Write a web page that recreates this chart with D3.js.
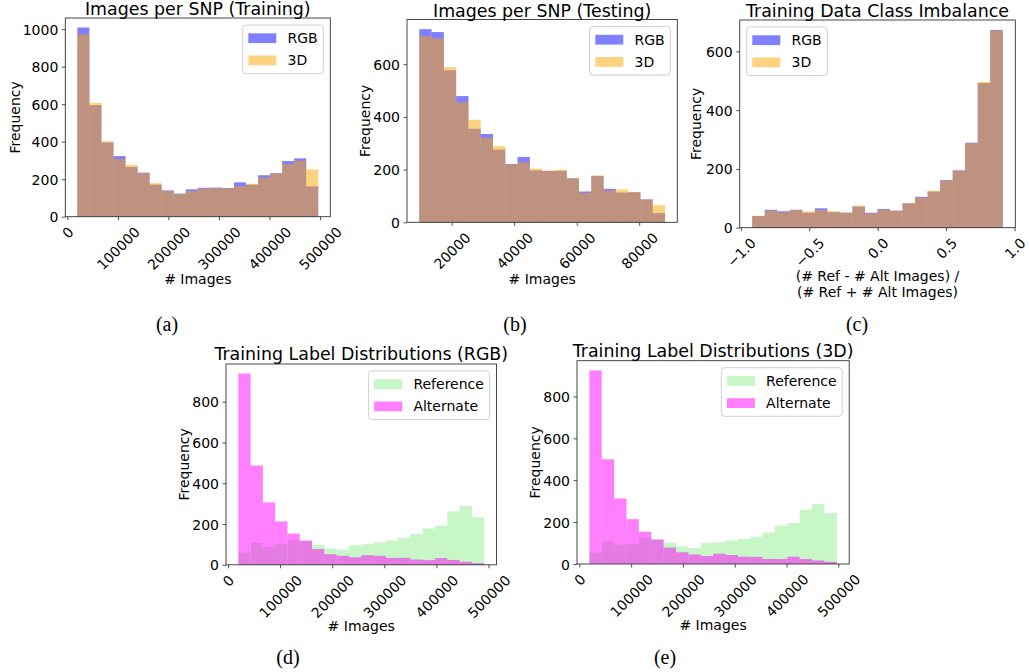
<!DOCTYPE html>
<html><head><meta charset="utf-8">
<script src="https://cdn.jsdelivr.net/npm/d3@7"></script>
<style>body{margin:0;background:#fff}svg{display:block}</style>
</head><body>
<svg id="fig" width="1029" height="672"></svg>
<script>
// ---------- data ----------
const binCount = 20;

// (a) Images per SNP (Training)
const trainBinRange = [19800, 496600];
const trainRGB = [1009, 595, 396, 323, 265, 235, 171, 140, 123, 146, 154, 155, 153, 183, 171, 221, 232, 297, 311, 162];
const train3D  = [973, 607, 402, 308, 277, 233, 179, 138, 121, 137, 150, 154, 152, 163, 175, 209, 230, 282, 299, 252];

// (b) Images per SNP (Testing)
const testBinRange = [9630, 88260];
const testRGB = [733, 722, 577, 479, 355, 335, 276, 221, 248, 197, 195, 195, 167, 117, 176, 127, 113, 114, 87, 35];
const test3D  = [707, 698, 589, 455, 389, 321, 289, 220, 228, 204, 196, 200, 167, 112, 178, 121, 125, 115, 87, 65];

// (c) Training Data Class Imbalance
const classBinRange = [-0.917, 0.914];
const classRGB = [40, 61, 56, 61, 51, 66, 53, 51, 72, 51, 64, 58, 83, 105, 123, 162, 195, 289, 492, 673];
const class3D  = [40, 59, 52, 60, 55, 61, 56, 52, 75, 49, 62, 58, 84, 102, 126, 161, 194, 287, 496, 671];

// (d) Training Label Distributions (RGB)
const labelRGBBinRange = [19785, 491740];
const refRGB = [59, 108, 88, 103, 119, 117, 99, 80, 75, 96, 101, 111, 119, 132, 151, 178, 191, 262, 288, 233];
const altRGB = [938, 487, 306, 213, 153, 119, 77, 52, 44, 37, 47, 44, 34, 34, 26, 23, 33, 24, 15, 8];

// (e) Training Label Distributions (3D)
const label3DBinRange = [19313, 497100];
const ref3D = [54, 108, 92, 97, 125, 117, 102, 84, 76, 102, 103, 113, 119, 130, 151, 183, 195, 259, 286, 243];
const alt3D = [924, 500, 313, 214, 154, 117, 78, 56, 46, 38, 49, 43, 35, 34, 24, 24, 35, 24, 17, 10];

// ticks
const imagesXTicks = [0, 100000, 200000, 300000, 400000, 500000];
const imagesXTickLabels = ["0", "100000", "200000", "300000", "400000", "500000"];
const testXTicks = [20000, 40000, 60000, 80000];
const testXTickLabels = ["20000", "40000", "60000", "80000"];
const classXTicks = [-1, -0.5, 0, 0.5, 1];
const classXTickLabels = ["\u22121.0", "\u22120.5", "0.0", "0.5", "1.0"];
const trainYTicks = [0, 200, 400, 600, 800, 1000];
const testYTicks = [0, 200, 400, 600];
const classYTicks = [0, 200, 400, 600];
const labelYTicks = [0, 200, 400, 600, 800];

const seriesRGB3D = ["RGB", "3D"];
const seriesRefAlt = ["Reference", "Alternate"];
const colorsRGB3D = ["#0000ff", "#ffa500"];
const colorsRefAlt = ["#90ee90", "#ff00ff"];

const titles = ["Images per SNP (Training)", "Images per SNP (Testing)", "Training Data Class Imbalance",
                "Training Label Distributions (RGB)", "Training Label Distributions (3D)"];
const captions = ["(a)", "(b)", "(c)", "(d)", "(e)"];

// ---------- drawing ----------
const FONT = "'DejaVu Sans', sans-serif";
const svg = d3.select("#fig");

const panels = [
  { title: titles[0], caption: captions[0], range: trainBinRange, series: [trainRGB, train3D], names: seriesRGB3D, colors: colorsRGB3D,
    xTicks: imagesXTicks, xLabels: imagesXTickLabels, yTicks: trainYTicks,
    box: {left: 65.3, right: 330.3, top: 18, bottom: 216.7}, legendSide: "right",
    titleY: 14.5, ylabX: 20, xlab: ["# Images"], xlabY: [283.5], cap: [167, 331] },
  { title: titles[1], caption: captions[1], range: testBinRange, series: [testRGB, test3D], names: seriesRGB3D, colors: colorsRGB3D,
    xTicks: testXTicks, xLabels: testXTickLabels, yTicks: testYTicks,
    box: {left: 407, right: 677.3, top: 19.5, bottom: 222.3}, legendSide: "right",
    titleY: 16.5, ylabX: 370.3, xlab: ["# Images"], xlabY: [283.5], cap: [515, 331] },
  { title: titles[2], caption: captions[2], range: classBinRange, series: [classRGB, class3D], names: seriesRGB3D, colors: colorsRGB3D,
    xTicks: classXTicks, xLabels: classXTickLabels, yTicks: classYTicks,
    box: {left: 739.7, right: 1015.3, top: 20, bottom: 227.7}, legendSide: "left",
    titleY: 16.7, ylabX: 701, xlab: ["(# Ref - # Alt Images) /", "(# Ref + # Alt Images)"], xlabY: [280.5, 297], cap: [857, 331] },
  { title: titles[3], caption: captions[3], range: labelRGBBinRange, series: [refRGB, altRGB], names: seriesRefAlt, colors: colorsRefAlt,
    xTicks: imagesXTicks, xLabels: imagesXTickLabels, yTicks: labelYTicks,
    box: {left: 226, right: 496.5, top: 364, bottom: 564.8}, legendSide: "right",
    titleY: 360, ylabX: 188.5, xlab: ["# Images"], xlabY: [631], cap: [288, 664] },
  { title: titles[4], caption: captions[4], range: label3DBinRange, series: [ref3D, alt3D], names: seriesRefAlt, colors: colorsRefAlt,
    xTicks: imagesXTicks, xLabels: imagesXTickLabels, yTicks: labelYTicks,
    box: {left: 577, right: 849.2, top: 360.7, bottom: 564}, legendSide: "right",
    titleY: 356.7, ylabX: 539.5, xlab: ["# Images"], xlabY: [630], cap: [665, 664] }
];

function drawPanel(p) {
  const g = svg.append("g");
  const b = p.box;
  const [lo, hi] = p.range;
  const span = hi - lo;
  const x = d3.scaleLinear().domain([lo - 0.05 * span, hi + 0.05 * span]).range([b.left, b.right]);
  const yMax = d3.max(p.series.flat());
  const y = d3.scaleLinear().domain([0, yMax * 1.05]).range([b.bottom, b.top]);
  const edges = d3.range(binCount + 1).map(i => lo + i * span / binCount);

  p.series.forEach((vals, si) => {
    g.append("g").selectAll("rect").data(vals).join("rect")
      .attr("x", (d, i) => x(edges[i]))
      .attr("width", (d, i) => x(edges[i + 1]) - x(edges[i]))
      .attr("y", d => y(d))
      .attr("height", d => y(0) - y(d))
      .attr("fill", p.colors[si])
      .attr("fill-opacity", 0.5);
  });

  // y axis
  const ya = g.append("g").attr("transform", `translate(${b.left},0)`)
    .call(d3.axisLeft(y).tickValues(p.yTicks).tickSize(3.5).tickPadding(3.5).tickFormat(d3.format("d")));
  ya.select(".domain").remove();
  ya.selectAll("line").attr("stroke", "#222").attr("stroke-width", 0.8);
  ya.selectAll("text").attr("dy", "0.36em").style("font-family", FONT).style("font-size", "14px").attr("fill", "#000");

  // x axis
  const xa = g.append("g").attr("transform", `translate(0,${b.bottom})`)
    .call(d3.axisBottom(x).tickValues(p.xTicks).tickSize(3.5).tickFormat((d, i) => p.xLabels[i]));
  xa.select(".domain").remove();
  xa.selectAll("line").attr("stroke", "#222").attr("stroke-width", 0.8);
  xa.selectAll("text")
    .style("font-family", FONT).style("font-size", "14px").attr("fill", "#000")
    .attr("y", null).attr("dy", null)
    .attr("text-anchor", "middle").attr("dominant-baseline", "central")
    .each(function () {
      const w = this.getComputedTextLength();
      const off = (w + 16.3) / (2 * Math.SQRT2);
      d3.select(this).attr("transform", `translate(0,${7 + off}) rotate(-45)`);
    });

  // frame
  g.append("rect").attr("x", b.left).attr("y", b.top)
    .attr("width", b.right - b.left).attr("height", b.bottom - b.top)
    .attr("fill", "none").attr("stroke", "#333").attr("stroke-width", 0.9);

  // title
  g.append("text").attr("x", (b.left + b.right) / 2).attr("y", p.titleY)
    .attr("text-anchor", "middle").style("font-family", FONT).style("font-size", "17.4px")
    .attr("fill", "#000").text(p.title);

  // y label
  g.append("text").attr("transform", `translate(${p.ylabX},${(b.top + b.bottom) / 2}) rotate(-90)`)
    .attr("text-anchor", "middle").style("font-family", FONT).style("font-size", "14px")
    .attr("fill", "#000").text("Frequency");

  // x label
  p.xlab.forEach((t, i) => {
    g.append("text").attr("x", (b.left + b.right) / 2).attr("y", p.xlabY[i])
      .attr("text-anchor", "middle").style("font-family", FONT).style("font-size", "14px")
      .attr("fill", "#000").text(t);
  });

  // legend
  const pad = 5.6, hl = 28, htp = 11.2, rowH = 15.2, ls = 7;
  const lg = g.append("g");
  const frame = lg.append("rect");
  const texts = p.names.map(n => lg.append("text").style("font-family", FONT).style("font-size", "14px").attr("fill", "#000").text(n));
  const tw = d3.max(texts, t => t.node().getComputedTextLength());
  const lw = 2 * pad + hl + htp + tw;
  const lh = 2 * pad + p.names.length * rowH + (p.names.length - 1) * ls;
  const x0 = p.legendSide === "right" ? b.right - 7 - lw : b.left + 7;
  const y0 = b.top + 7;
  frame.attr("x", x0).attr("y", y0).attr("width", lw).attr("height", lh).attr("rx", 3)
    .attr("fill", "#fff").attr("fill-opacity", 0.8).attr("stroke", "#d0d0d0").attr("stroke-width", 1);
  p.names.forEach((n, i) => {
    const cy = y0 + pad + i * (rowH + ls) + rowH / 2;
    lg.append("rect").attr("x", x0 + pad).attr("y", cy - 4.9).attr("width", hl).attr("height", 9.8)
      .attr("fill", p.colors[i]).attr("fill-opacity", 0.5);
    texts[i].attr("x", x0 + pad + hl + htp).attr("y", cy).attr("dy", "0.36em");
  });

  // caption
  svg.append("text").attr("x", p.cap[0]).attr("y", p.cap[1]).attr("text-anchor", "middle")
    .style("font-family", "'Liberation Serif', 'Times New Roman', serif").style("font-size", "20px")
    .attr("fill", "#000").text(p.caption);
}

panels.forEach(drawPanel);
</script>
</body></html>
